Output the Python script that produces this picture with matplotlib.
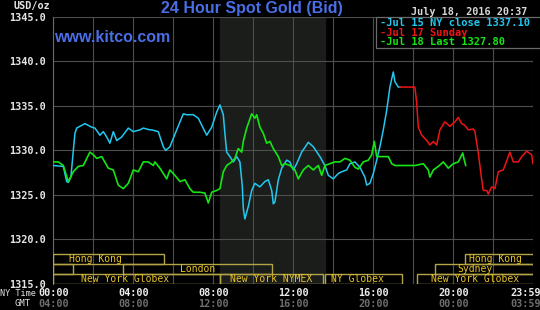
import matplotlib
matplotlib.use("Agg")
import matplotlib.pyplot as plt
from matplotlib.patches import Rectangle
import matplotlib.transforms as mtransforms

# ---- data (NY time in hours, price in USD/oz) ----
jul15_t = [0.00, 0.50, 0.67, 0.75, 0.88, 1.08, 1.17, 1.58, 1.75, 1.92, 2.08, 2.33, 2.50, 2.67,
           2.83, 3.00, 3.17, 3.42, 3.75, 4.00, 4.33, 4.50, 4.83, 4.92, 5.25, 5.50, 5.62, 5.83,
           6.17, 6.50, 6.67, 7.00, 7.25, 7.67, 7.92, 8.17, 8.33, 8.50, 8.58, 8.67, 8.83, 9.00,
           9.17, 9.33, 9.45, 9.50, 9.58, 9.75, 9.92, 10.08, 10.33, 10.58, 10.75, 10.92, 11.00,
           11.08, 11.25, 11.42, 11.67, 11.83, 12.00, 12.17, 12.42, 12.75, 13.00, 13.33, 13.58,
           13.75, 14.00, 14.25, 14.42, 14.67, 14.83, 15.08, 15.33, 15.58, 15.67, 15.83, 16.00,
           16.17, 16.33, 16.50, 16.67, 16.83, 17.00, 17.08, 17.25, 17.33]
jul15_p = [1328.3, 1328.2, 1326.5, 1326.4, 1327.0, 1331.9, 1332.5, 1333.0, 1332.8, 1332.6,
           1332.5, 1331.7, 1332.1, 1331.5, 1330.8, 1332.1, 1331.1, 1331.5, 1332.5, 1332.1,
           1332.3, 1332.5, 1332.3, 1332.3, 1332.1, 1330.4, 1330.0, 1330.4, 1332.3, 1334.1,
           1334.0, 1334.0, 1333.6, 1331.7, 1332.6, 1334.3, 1335.1, 1334.0, 1331.9, 1329.8,
           1329.3, 1328.7, 1329.3, 1328.7, 1326.0, 1323.5, 1322.3, 1323.7, 1325.5, 1326.3,
           1325.9, 1326.5, 1326.7, 1325.5, 1324.0, 1324.2, 1326.7, 1328.0, 1328.9, 1328.7,
           1327.8, 1328.5, 1329.8, 1330.9, 1330.4, 1329.3, 1328.3, 1327.2, 1326.8, 1327.4,
           1327.6, 1327.8, 1328.5, 1328.7, 1328.1, 1327.0, 1326.1, 1326.3, 1327.4, 1328.9,
           1330.4, 1332.3, 1334.5, 1337.1, 1338.8, 1337.7, 1337.1, 1337.1]

jul17_t = [17.33, 18.08, 18.17, 18.25, 18.42, 18.67, 18.83, 19.00, 19.17, 19.33, 19.58, 19.83,
           20.08, 20.25, 20.42, 20.58, 20.75, 21.00, 21.08, 21.25, 21.42, 21.50, 21.67, 21.75,
           21.92, 22.08, 22.25, 22.50, 22.83, 23.00, 23.25, 23.42, 23.67, 23.92, 23.98]
jul17_p = [1337.1, 1337.1, 1335.3, 1332.6, 1331.7, 1331.1, 1330.6, 1331.0, 1330.6, 1332.3,
           1333.2, 1332.7, 1333.2, 1333.7, 1333.0, 1332.8, 1332.3, 1332.4, 1332.1, 1329.7,
           1326.7, 1325.5, 1325.5, 1325.1, 1325.9, 1325.7, 1327.6, 1327.8, 1329.8, 1328.7,
           1328.7, 1329.3, 1329.9, 1329.5, 1328.5]

jul18_t = [0.00, 0.25, 0.50, 0.75, 1.00, 1.25, 1.50, 1.83, 2.00, 2.17, 2.42, 2.75, 3.00, 3.25,
           3.50, 3.75, 4.00, 4.25, 4.50, 4.75, 5.00, 5.08, 5.33, 5.50, 5.67, 5.83, 6.08, 6.33,
           6.58, 6.83, 7.00, 7.33, 7.58, 7.75, 7.92, 8.17, 8.33, 8.50, 8.67, 8.92, 9.08, 9.25,
           9.42, 9.50, 9.67, 9.92, 10.08, 10.17, 10.33, 10.50, 10.67, 10.83, 11.00, 11.25,
           11.42, 11.58, 11.83, 12.08, 12.25, 12.50, 12.75, 13.00, 13.25, 13.42, 13.58, 13.83,
           14.08, 14.33, 14.58, 14.83, 15.08, 15.25, 15.50, 15.75, 15.92, 16.05, 16.17, 16.42,
           16.75, 16.92, 17.08, 18.08, 18.50, 18.75, 18.83, 19.00, 19.25, 19.50, 19.75, 20.00,
           20.25, 20.47, 20.55, 20.62]
jul18_p = [1328.7, 1328.7, 1328.3, 1326.5, 1327.6, 1328.2, 1328.3, 1329.8, 1329.5, 1329.1,
           1329.3, 1328.0, 1327.8, 1326.1, 1325.7, 1326.3, 1327.8, 1327.6, 1328.7, 1328.7,
           1328.3, 1328.7, 1328.0, 1327.4, 1326.8, 1327.8, 1327.2, 1326.5, 1326.7, 1325.7,
           1325.3, 1325.3, 1325.2, 1324.1, 1325.3, 1325.5, 1325.7, 1327.6, 1328.3, 1328.7,
           1329.1, 1330.2, 1329.8, 1331.0, 1332.5, 1334.1, 1333.6, 1334.0, 1332.6, 1331.9,
           1330.8, 1331.0, 1330.2, 1329.3, 1328.3, 1328.5, 1328.3, 1327.8, 1326.8, 1327.8,
           1328.3, 1327.8, 1328.3, 1327.2, 1328.3, 1328.5, 1328.7, 1328.7, 1329.1, 1328.9,
           1328.1, 1327.9, 1328.7, 1328.9, 1329.5, 1331.0, 1329.3, 1329.3, 1329.3, 1328.5,
           1328.3, 1328.3, 1328.5, 1327.8, 1327.0, 1327.8, 1328.2, 1328.7, 1328.0, 1328.5,
           1328.7, 1329.7, 1328.9, 1328.3]

legend_labels = ["-Jul 15 NY close 1337.10", "-Jul 17 Sunday", "-Jul 18 Last 1327.80"]
series_colors = ["#22c8f0", "#f01414", "#14e614"]

y_ticks = [1315, 1320, 1325, 1330, 1335, 1340, 1345]
ny_labels = ["00:00", "04:00", "08:00", "12:00", "16:00", "20:00", "23:59"]
gmt_labels = ["04:00", "08:00", "12:00", "16:00", "20:00", "00:00", "03:59"]
label_hours = [0, 4, 8, 12, 16, 20, 23.64]

# market sessions: (row, start hour, end hour, label, label hour)
sessions = [
    (2, 0.0, 5.53, "Hong Kong", 2.1),
    (1, 0.0, 1.0, "", 0),
    (1, 3.5, 10.95, "London", 7.2),
    (0, 0.0, 8.33, "New York Globex", 3.6),
    (0, 8.33, 13.5, "New York NYMEX", 10.9),
    (0, 13.6, 17.45, "NY Globex", 15.2),
    (0, 18.17, 24.2, "New York Globex", 21.1),
    (1, 19.1, 24.2, "Sydney", 21.1),
    (2, 20.6, 24.2, "Hong Kong", 22.1),
]
nymex_shade = (8.33, 13.6)

MONO = "DejaVu Sans Mono"
W, H = 540, 310

fig = plt.figure(figsize=(5.4, 3.1), dpi=100, facecolor="black")
ax = fig.add_axes([53.3 / W, 1 - 284 / H, 480 / W, (284 - 16.7) / H])
ax.set_facecolor("black")
ax.set_xlim(0, 24)
ax.set_ylim(1315, 1345)

ax.axvspan(*nymex_shade, color="#1b1d1b", zorder=0)
ax.set_xticks(range(0, 25, 2))
ax.set_xticklabels([])
ax.set_yticks(y_ticks, labels=[f"{v:.1f}" for v in y_ticks])
ax.tick_params(axis="both", length=0)
ax.tick_params(axis="y", pad=5, labelcolor="#e6e6e6", labelsize=7.3)
for lab in ax.get_yticklabels():
    lab.set_fontfamily(MONO)
    lab.set_fontweight("bold")
ax.grid(True, color="#4e4e4e", linewidth=0.8, zorder=1)
ax.set_axisbelow(True)
for s in ax.spines.values():
    s.set_visible(False)
ax.spines["left"].set_visible(True)
ax.spines["left"].set_color("#6a6a6a")

# price lines
ax.plot(jul15_t, jul15_p, color=series_colors[0], lw=1.1, zorder=3)
ax.plot(jul17_t, jul17_p, color=series_colors[1], lw=1.1, zorder=3)
ax.plot(jul18_t, jul18_p, color=series_colors[2], lw=1.2, zorder=4)

# session boxes
row_h = 1.11
for row, t0, t1, name, th in sessions:
    y0 = 1315 + row * row_h
    ax.add_patch(Rectangle((t0, y0), t1 - t0, row_h, facecolor="none",
                           edgecolor="#b4a448", lw=1.0, zorder=5, clip_on=True))
    if name:
        ax.text(th, y0 + row_h / 2, name, color="#e8c426", fontsize=7, family=MONO,
                ha="center", va="center", zorder=6)

# legend box top right
lx0 = (376 - 53.3) / 20
ax.add_patch(Rectangle((lx0, 1345 - (48 - 16.7) / 8.91), 25 - lx0, (48 - 16.7) / 8.91,
                       facecolor="black", edgecolor="#6a6a6a", lw=0.9, zorder=7, clip_on=False))
for i, (txt, c) in enumerate(zip(legend_labels, series_colors)):
    fig.text(380 / W, 1 - (22.7 + 9.8 * i) / H, txt, color=c, fontsize=7.5, family=MONO,
             fontweight="bold", va="center", ha="left")

# titles
fig.text(13 / W, 1 - 6 / H, "USD/oz", color="#e6e6e6", fontsize=7.3, family=MONO,
         fontweight="bold", va="center", ha="left")
fig.text(252 / W, 1 - 9 / H, "24 Hour Spot Gold (Bid)", color="#4a6ee6", fontsize=11.5,
         family="Liberation Sans", fontweight="bold", va="center", ha="center")
fig.text(54 / W, 1 - 38 / H, "www.kitco.com", color="#4a6ee6", fontsize=11.5,
         family="Liberation Sans", fontweight="bold", va="center", ha="left")
fig.text(527 / W, 1 - 12 / H, "July 18, 2016 20:37", color="#d8d8d8", fontsize=7.3,
         family=MONO, fontweight="bold", va="center", ha="right")

# time axis labels
trans = mtransforms.blended_transform_factory(ax.transData, fig.transFigure)
for h, ny, gmt in zip(label_hours, ny_labels, gmt_labels):
    ax.text(h, 1 - 293 / H, ny, transform=trans, color="#ececec", fontsize=7.3,
            family=MONO, fontweight="bold", ha="center", va="center")
    ax.text(h, 1 - 304 / H, gmt, transform=trans, color="#6e6e6e", fontsize=7.3,
            family=MONO, fontweight="bold", ha="center", va="center")
fig.text(0.5 / W, 1 - 294 / H, "NY Time", color="#e0e0e0", fontsize=6.1, family=MONO,
         va="center", ha="left")
fig.text(31 / W, 1 - 304 / H, "GMT", color="#e0e0e0", fontsize=6.5, family=MONO,
         va="center", ha="right")

fig.savefig("out.png", dpi=100, facecolor="black")
